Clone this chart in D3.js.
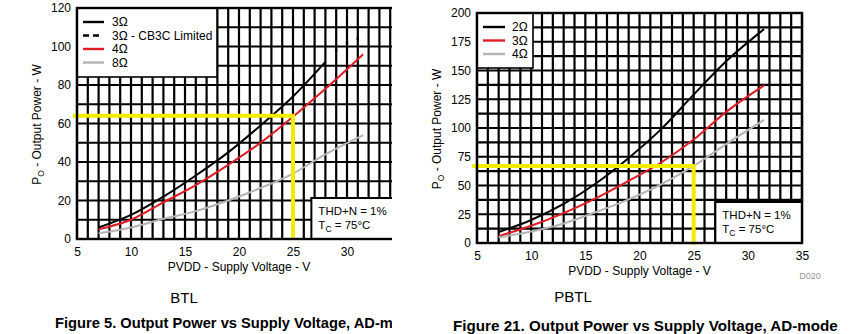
<!DOCTYPE html>
<html><head><meta charset="utf-8">
<script src="https://cdn.jsdelivr.net/npm/d3@7"></script>
<style>body{margin:0;background:#fff}</style>
</head><body>
<script>
// ---------- DATA ----------
const voltageTicks = [5, 10, 15, 20, 25, 30, 35];
const btlPowerTicks = [0, 20, 40, 60, 80, 100, 120];
const pbtlPowerTicks = [0, 25, 50, 75, 100, 125, 150, 175, 200];

// BTL (Figure 5)
const btl3OhmVolts = [7, 10, 13, 16, 19, 22, 25, 28];
const btl3Ohm = [6, 12.5, 22, 33, 45, 59, 74, 92];
const btlCb3cVolts = [29, 30, 31];
const btl3OhmCb3c = [98, 102, 104];
const btlVolts = [7, 10, 13, 16, 19, 22, 25, 28, 31.5];
const btl4Ohm = [5, 10, 19, 28, 38.5, 50, 63.5, 78, 96];
const btl8Ohm = [3, 6, 10.5, 14.5, 20, 26.5, 34, 44, 54];
const btlMarkVolts = [4.6, 25, 25];
const btlMarkPower = [64, 64, -0.5];

// PBTL (Figure 21)
const pbtlVolts = [7, 10, 13, 16, 19, 22, 25, 28, 31.5];
const pbtl2Ohm = [9.5, 20, 34, 52, 74, 99, 129, 158, 186];
const pbtl3Ohm = [6, 15, 26, 39, 54, 70, 90, 114, 137];
const pbtl4Ohm = [5, 10, 17, 27, 38, 51, 67, 86, 107];
const pbtlMarkVolts = [4.55, 25, 25];
const pbtlMarkPower = [67, 67, -1.5];

const btlLegend = ["3Ω", "3Ω - CB3C Limited", "4Ω", "8Ω"];
const pbtlLegend = ["2Ω", "3Ω", "4Ω"];

// ---------- DRAW ----------
const RED = "#dd1c24", GRAY = "#b4b4b4", YEL = "#f2ec00";
const FONT = "'Liberation Sans', Arial, sans-serif";
const svg = d3.select("body").append("svg").attr("width", 860).attr("height", 334)
  .style("font-family", FONT);

svg.append("clipPath").attr("id", "leftClip").append("rect")
  .attr("x", 0).attr("y", 0).attr("width", 392).attr("height", 334);

function drawPanel(g, o) {
  const x = d3.scaleLinear().domain([5, 35]).range([o.left, o.right]);
  const y = d3.scaleLinear().domain([0, o.yMax]).range([o.bottom, o.top]);

  // grid
  const grid = g.append("g").attr("stroke", "#000").attr("stroke-width", 2.2);
  d3.range(5, 35.01, 1).forEach(v => grid.append("line")
    .attr("x1", x(v)).attr("x2", x(v)).attr("y1", y(0)).attr("y2", y(o.yMax)));
  d3.range(0, o.yMax + 0.01, o.gridStep).forEach(p => grid.append("line")
    .attr("x1", x(5)).attr("x2", x(35)).attr("y1", y(p)).attr("y2", y(p)));

  // axes (labels only)
  const ax = g.append("g").attr("transform", `translate(0,${o.bottom})`)
    .call(d3.axisBottom(x).tickValues(voltageTicks).tickSize(0).tickPadding(8).tickFormat(d3.format("d")));
  ax.select(".domain").remove();
  ax.selectAll("text").attr("font-size", 12).attr("font-family", FONT).attr("fill", "#000");
  const ay = g.append("g").attr("transform", `translate(${o.left},0)`)
    .call(d3.axisLeft(y).tickValues(o.yTicks).tickSize(0).tickPadding(6).tickFormat(d3.format("d")));
  ay.select(".domain").remove();
  ay.selectAll("text").attr("font-size", 12).attr("font-family", FONT).attr("fill", "#000");

  // curves
  const line = d3.line().x(d => x(d[0])).y(d => y(d[1])).curve(d3.curveMonotoneX);
  o.series.forEach(s => {
    g.append("path").datum(d3.zip(s.xs, s.ys)).attr("d", line)
      .attr("fill", "none").attr("stroke", s.color).attr("stroke-width", 2);
  });
  (o.dots || []).forEach(s => {
    g.selectAll(null).data(d3.zip(s.xs, s.ys)).join("rect")
      .attr("x", d => x(d[0]) - 1.2).attr("y", d => y(d[1]) - 1.2)
      .attr("width", 2.4).attr("height", 2.4).attr("fill", "#000");
  });

  // yellow marker
  g.append("path").datum(d3.zip(o.markX, o.markY))
    .attr("d", d3.line().x(d => x(d[0])).y(d => y(d[1])))
    .attr("fill", "none").attr("stroke", YEL).attr("stroke-width", 4);

  // legend
  const lg = o.legend;
  g.append("rect").attr("x", x(5)).attr("y", y(o.yMax)).attr("width", lg.w).attr("height", lg.h)
    .attr("fill", "#fff").attr("stroke", "#000").attr("stroke-width", 1.6);
  lg.items.forEach((it, i) => {
    const yy = y(o.yMax) + lg.y0 + i * lg.dy;
    g.append("line").attr("x1", x(5) + lg.lx0).attr("x2", x(5) + (it.dash ? lg.lx1 - 5 : lg.lx1))
      .attr("y1", yy).attr("y2", yy).attr("stroke", it.color).attr("stroke-width", 2.4)
      .attr("stroke-dasharray", it.dash ? "6,4" : null);
    g.append("text").attr("x", x(5) + lg.tx).attr("y", yy).attr("dy", "0.35em")
      .attr("font-size", 12).text(it.label);
  });

  // THD box
  const bx = x(o.boxV), by = y(0) - 41;
  g.append("rect").attr("x", bx).attr("y", by).attr("width", x(35) - bx).attr("height", 41)
    .attr("fill", "#fff").attr("stroke", "#000").attr("stroke-width", 2);
  g.append("text").attr("x", bx + 7).attr("y", by + 17).attr("font-size", 11.5).text("THD+N = 1%");
  const t2 = g.append("text").attr("x", bx + 7).attr("y", by + 31).attr("font-size", 11.5);
  t2.append("tspan").text("T");
  t2.append("tspan").attr("font-size", 8.5).attr("dy", 3).text("C");
  t2.append("tspan").attr("dy", -3).text(" = 75°C");

  // frame
  g.append("rect").attr("x", x(5)).attr("y", y(o.yMax)).attr("width", x(35) - x(5)).attr("height", y(0) - y(o.yMax))
    .attr("fill", "none").attr("stroke", "#000").attr("stroke-width", 2.4);

  // axis titles
  g.append("text").attr("x", (x(5) + x(35)) / 2).attr("y", o.bottom + 32).attr("text-anchor", "middle")
    .attr("font-size", 12).text("PVDD - Supply Voltage - V");
  const yl = g.append("text").attr("transform", `translate(${o.ylabX},${(o.top + o.bottom) / 2 + 1}) rotate(-90)`)
    .attr("text-anchor", "middle").attr("font-size", 12);
  yl.append("tspan").text("P");
  yl.append("tspan").attr("font-size", 8.5).attr("dy", 3).text("O");
  yl.append("tspan").attr("dy", -3).text(" - Output Power - W");

  g.append("text").attr("x", o.subX).attr("y", o.subY).attr("text-anchor", "middle")
    .attr("font-size", 15).text(o.sub);
  g.append("text").attr("x", o.capX).attr("y", o.capY).attr("font-size", o.capSize).attr("font-weight", "bold")
    .text(o.caption);
}

const gl = svg.append("g").attr("clip-path", "url(#leftClip)");
drawPanel(gl, {
  left: 77, right: 401, top: 8, bottom: 239, yMax: 120, gridStep: 10, yTicks: btlPowerTicks,
  series: [
    {xs: btl3OhmVolts, ys: btl3Ohm, color: "#000"},
    {xs: btlVolts, ys: btl4Ohm, color: RED},
    {xs: btlVolts, ys: btl8Ohm, color: GRAY}
  ],
  dots: [{xs: btlCb3cVolts, ys: btl3OhmCb3c}],
  markX: btlMarkVolts, markY: btlMarkPower,
  legend: {w: 140, h: 69, y0: 14, dy: 13.5, lx0: 6, lx1: 27, tx: 35,
    items: [
      {label: btlLegend[0], color: "#000"},
      {label: btlLegend[1], color: "#000", dash: true},
      {label: btlLegend[2], color: RED},
      {label: btlLegend[3], color: GRAY}
    ]},
  boxV: 26.7, ylabX: 41,
  sub: "BTL", subX: 184, subY: 303,
  caption: "Figure 5. Output Power vs Supply Voltage, AD-mode", capX: 55, capY: 328, capSize: 14.7
});

const gr = svg.append("g");
drawPanel(gr, {
  left: 477, right: 802, top: 13, bottom: 243, yMax: 200, gridStep: 12.5, yTicks: pbtlPowerTicks,
  series: [
    {xs: pbtlVolts, ys: pbtl2Ohm, color: "#000"},
    {xs: pbtlVolts, ys: pbtl3Ohm, color: RED},
    {xs: pbtlVolts, ys: pbtl4Ohm, color: GRAY}
  ],
  markX: pbtlMarkVolts, markY: pbtlMarkPower,
  legend: {w: 56, h: 55, y0: 14, dy: 13.5, lx0: 6, lx1: 28, tx: 35,
    items: [
      {label: pbtlLegend[0], color: "#000"},
      {label: pbtlLegend[1], color: RED},
      {label: pbtlLegend[2], color: GRAY}
    ]},
  boxV: 27, ylabX: 441,
  sub: "PBTL", subX: 573, subY: 302,
  caption: "Figure 21. Output Power vs Supply Voltage, AD-mode", capX: 453, capY: 331, capSize: 15.2
});
gr.append("text").attr("x", 810).attr("y", 279).attr("text-anchor", "middle")
  .attr("font-size", 9).attr("fill", "#9a9a9a").text("D020");
</script>
</body></html>
